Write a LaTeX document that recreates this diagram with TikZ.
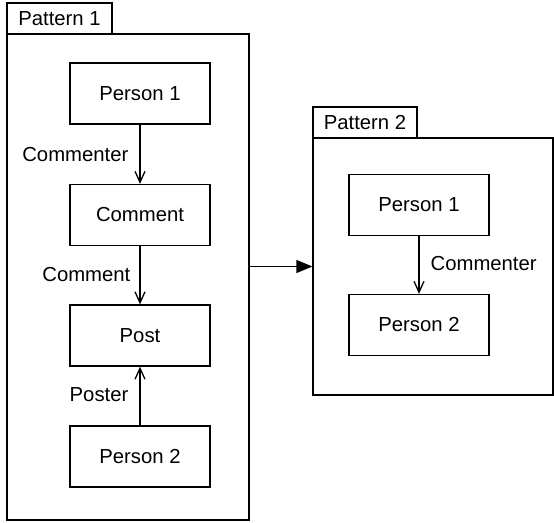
\documentclass[tikz,border=0pt]{standalone}
\usepackage{fontspec}
\setmainfont{Liberation Sans}
\usetikzlibrary{arrows.meta}
\begin{document}
\begin{tikzpicture}[x=1pt,y=-1pt,
  every node/.style={font=\fontsize{20.3}{23}\selectfont},
  line width=1.3pt,
  frame/.style={draw,rectangle,inner sep=0pt},
  entity/.style={draw,rectangle,minimum width=140pt,minimum height=61pt,inner sep=0pt},
  rel/.style={-{Straight Barb[length=11pt,width=10pt,line width=1.3pt]}},
  lbl/.style={inner sep=0pt}
]
\useasboundingbox (0,0) rectangle (554,522);

% Pattern 1 package
\node[frame,minimum width=105pt,minimum height=31pt] (tab1) at (59.5,18.5) {Pattern 1};
\node[frame,minimum width=242pt,minimum height=486pt] (pkg1) at (128,277) {};

\node[entity] (p1a) at (140,93.5) {Person 1};
\node[entity] (cmt) at (140,215) {Comment};
\node[entity] (post) at (140,335.5) {Post};
\node[entity] (p1b) at (140,456.5) {Person 2};

\draw[rel] (p1a) -- (cmt);
\draw[rel] (cmt) -- (post);
\draw[rel] (p1b) -- (post);

\node[lbl,anchor=east] at (129,155) {Commenter};
\node[lbl,anchor=east] at (131,275) {Comment};
\node[lbl,anchor=east] at (129,395) {Poster};

% Pattern 2 package
\node[frame,minimum width=104pt,minimum height=31pt] (tab2) at (365,122.5) {Pattern 2};
\node[frame,minimum width=240pt,minimum height=257pt] (pkg2) at (433,266.5) {};

\node[entity] (p2a) at (419,205) {Person 1};
\node[entity] (p2b) at (419,325) {Person 2};

\draw[rel] (p2a) -- (p2b);
\node[lbl,anchor=west] at (430,264) {Commenter};

% transformation arrow
\draw[-{Triangle[length=16pt,width=13pt]}] (pkg1.east |- pkg2.west) -- (pkg2.west);
\end{tikzpicture}
\end{document}
